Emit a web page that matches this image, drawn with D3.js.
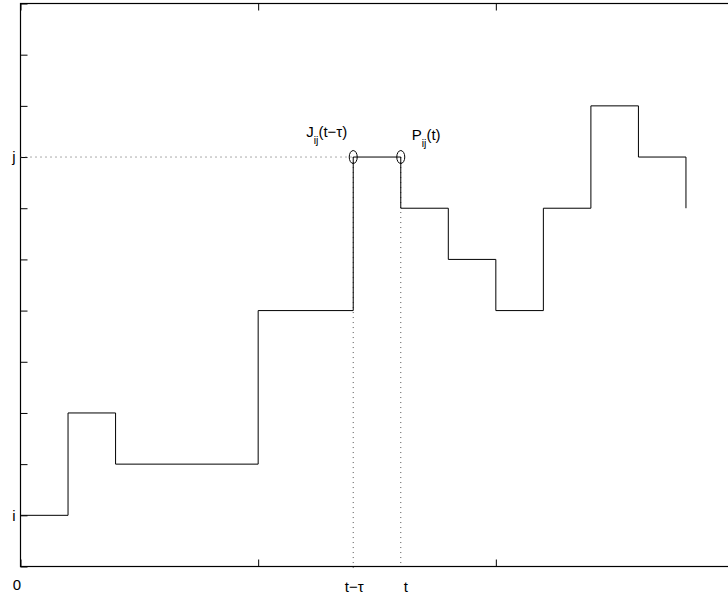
<!DOCTYPE html>
<html>
<head>
<meta charset="utf-8">
<script src="https://cdn.jsdelivr.net/npm/d3@7"></script>
<style>
  body { margin: 0; background: #fff; }
  text { font-family: "Liberation Sans", Arial, sans-serif; font-size: 15px; fill: #000; }
</style>
</head>
<body>
<script>
// step path: time of each change, state held from that time on
const stepTimes = [0, 0.2, 0.4, 1.0, 1.4, 1.6, 1.8, 2.0, 2.2, 2.4, 2.6, 2.8]
const stepLevels = [1, 3, 2, 5, 8, 7, 6, 5, 7, 9, 8, 7]

const yTickValues = [0, 1, 2, 3, 4, 5, 6, 7, 8, 9, 10, 11]
const yTickLabels = {1: "i", 8: "j"}
const xTickValues = [0, 1, 2, 3]
const xTickLabels = {0: "0"}

const tJump = 1.4   // t - tau
const tNow = 1.6    // t
const jLevel = 8

const W = 728, H = 598

const x = d3.scaleLinear().domain([0, 3]).range([20.5, 733.5])
const y = d3.scaleLinear().domain([0, 11]).range([566.5, 3.5])

const svg = d3.select("body").append("svg")
  .attr("width", W)
  .attr("height", H)

// frame
svg.append("rect")
  .attr("x", x(0)).attr("y", y(11))
  .attr("width", x(3) - x(0)).attr("height", y(0) - y(11))
  .attr("fill", "none").attr("stroke", "#000").attr("stroke-width", 1.2)

// ticks, pointing inward
svg.append("g")
  .attr("transform", "translate(" + x(0) + ",0)")
  .call(d3.axisLeft(y).tickValues(yTickValues).tickSize(-7).tickPadding(5)
    .tickFormat(d => yTickLabels[d] || ""))
  .call(g => g.select(".domain").remove())
  .call(g => g.selectAll("text").attr("fill", "#000").attr("font-size", null).attr("font-family", null))

svg.append("g")
  .attr("transform", "translate(0," + y(0) + ")")
  .call(d3.axisBottom(x).tickValues(xTickValues).tickSize(-7).tickPadding(13)
    .tickFormat(d => xTickLabels[d] || ""))
  .call(g => g.select(".domain").remove())
  .call(g => g.selectAll("text").attr("fill", "#000").attr("font-size", null).attr("font-family", null)
    .attr("dx", -4))

svg.append("g")
  .attr("transform", "translate(0," + y(11) + ")")
  .call(d3.axisTop(x).tickValues(xTickValues).tickSize(-7).tickFormat(""))
  .call(g => g.select(".domain").remove())

// dotted guides
const dots = svg.append("g")
  .attr("stroke", "#555").attr("stroke-width", 1)
  .attr("stroke-dasharray", "1,4").attr("fill", "none")

dots.append("line")
  .attr("x1", x(0)).attr("x2", x(tJump))
  .attr("y1", y(jLevel)).attr("y2", y(jLevel))
dots.append("line")
  .attr("x1", x(tJump)).attr("x2", x(tJump))
  .attr("y1", y(jLevel)).attr("y2", y(0) + 5)
dots.append("line")
  .attr("x1", x(tNow)).attr("x2", x(tNow))
  .attr("y1", y(jLevel)).attr("y2", y(0))

// step function
const pts = stepTimes.map((t, i) => ({t: t, v: stepLevels[i]}))
const line = d3.line()
  .x(d => x(d.t))
  .y(d => y(d.v))
  .curve(d3.curveStepAfter)

svg.append("path")
  .datum(pts)
  .attr("d", line)
  .attr("fill", "none")
  .attr("stroke", "#000")
  .attr("stroke-width", 1)

// markers at the jump points
svg.selectAll("ellipse")
  .data([tJump, tNow])
  .enter().append("ellipse")
  .attr("cx", d => x(d))
  .attr("cy", y(jLevel))
  .attr("rx", 4)
  .attr("ry", 6.5)
  .attr("fill", "none")
  .attr("stroke", "#000")
  .attr("stroke-width", 1)

// labels
const jl = svg.append("text").attr("x", x(tJump) - 47).attr("y", y(jLevel) - 20)
jl.append("tspan").text("J")
jl.append("tspan").attr("dy", 7).style("font-size", "10.5px").text("ij")
jl.append("tspan").attr("dy", -7).text("(t\u2212\u03c4)")

const pl = svg.append("text").attr("x", x(tNow) + 11).attr("y", y(jLevel) - 17)
pl.append("tspan").text("P")
pl.append("tspan").attr("dy", 7).style("font-size", "10.5px").text("ij")
pl.append("tspan").attr("dy", -7).text("(t)")

svg.append("text")
  .attr("x", x(tJump) + 1).attr("y", y(0) + 25)
  .attr("text-anchor", "middle")
  .text("t\u2212\u03c4")
svg.append("text")
  .attr("x", x(tNow) + 5).attr("y", y(0) + 25)
  .attr("text-anchor", "middle")
  .text("t")
</script>
</body>
</html>
